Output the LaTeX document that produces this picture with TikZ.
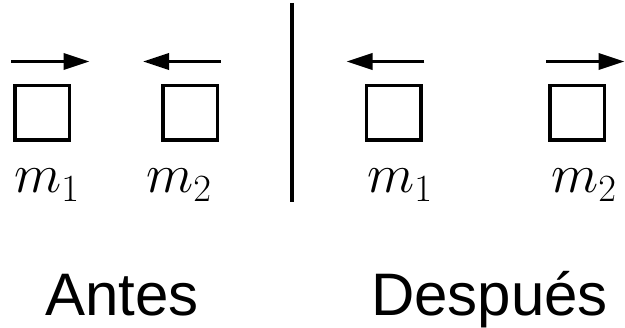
\RequirePackage{fix-cm}
\documentclass[tikz,border=0pt]{standalone}
\usepackage{fontspec}
\newfontfamily\capfont{Liberation Sans}
\usetikzlibrary{arrows.meta,calc}
\begin{document}
\begin{tikzpicture}[x=1pt,y=-1pt,
  block/.style={draw,line width=3.5pt,minimum size=54.5pt,inner sep=0pt},
  vel/.style={line width=3.5pt,-{Triangle[length=26pt,width=16pt]}},
  mass/.style={anchor=base west,inner sep=0pt,font=\fontsize{55}{60}\selectfont},
  caption/.style={anchor=base west,inner sep=0pt,font=\capfont\fontsize{60}{66}\selectfont}]
\useasboundingbox (0,0) rectangle (625,328);
% blocks
\node[block] (b1) at (42,113) {};
\node[block] (b2) at (190,113) {};
\node[block] (b3) at (393.5,113) {};
\node[block] (b4) at (577,113) {};
% velocity arrows
\draw[vel] ($(b1.north west)+(-1.75,-22.5)$) -- ($(b1.north east)+(18.5,-22.5)$);
\draw[vel] ($(b2.north east)+(1.75,-22.5)$) -- ($(b2.north west)+(-18,-22.5)$);
\draw[vel] ($(b3.north east)+(1.75,-22.5)$) -- ($(b3.north west)+(-18,-22.5)$);
\draw[vel] ($(b4.north west)+(-1.75,-22.5)$) -- ($(b4.north east)+(18.5,-22.5)$);
% mass labels
\node[mass] (l1) at (14,193) {$m_1$};
\node[mass] (l2) at (146,193) {$m_2$};
\node[mass] (l3) at (367,193) {$m_1$};
\node[mass] (l4) at (551,193) {$m_2$};
% separator
\coordinate (septop) at (292,3);
\coordinate (sepbot) at (292,202);
\draw[line width=3.5pt] (septop) -- (sepbot);
% captions
\node[caption] (antes) at (45,316) {Antes};
\node[caption] (despues) at (371,316) {Después};
\end{tikzpicture}
\end{document}
